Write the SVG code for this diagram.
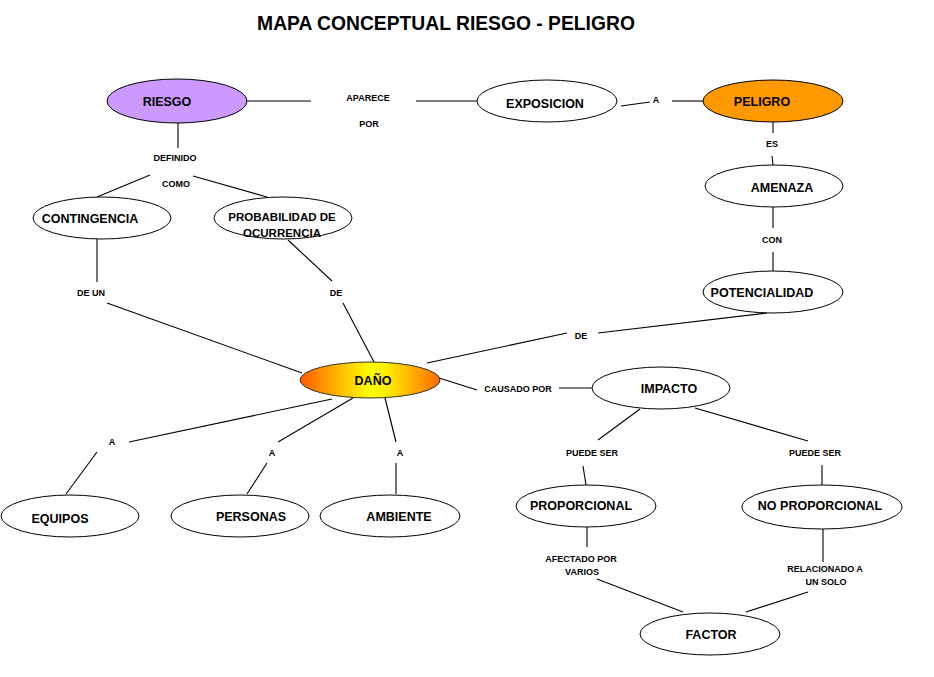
<svg xmlns="http://www.w3.org/2000/svg" width="934" height="677" viewBox="0 0 934 677">
<defs>
<linearGradient id="danoGrad" x1="0" y1="0" x2="1" y2="0">
<stop offset="0" stop-color="#ff5a00"/>
<stop offset="0.25" stop-color="#ffb000"/>
<stop offset="0.5" stop-color="#ffff00"/>
<stop offset="0.62" stop-color="#ffee00"/>
<stop offset="1" stop-color="#ff6a00"/>
</linearGradient>
</defs>
<style>
.n{fill:#ffffff;stroke:#000000;stroke-width:1}
.t{font-family:"Liberation Sans",Arial,sans-serif;font-weight:bold;font-size:12.5px;fill:#000000;text-anchor:middle}
.l{font-family:"Liberation Sans",Arial,sans-serif;font-weight:bold;font-size:9px;fill:#000000;text-anchor:middle}
.c line{stroke:#000000;stroke-width:1.1}
</style>
<rect width="934" height="677" fill="#ffffff"/>
<text x="446" y="30" style="font-family:'Liberation Sans',Arial,sans-serif;font-weight:bold;font-size:19.3px;fill:#000;text-anchor:middle">MAPA CONCEPTUAL RIESGO - PELIGRO</text>

<g id="connectors" class="c">
<line x1="247" y1="101" x2="311" y2="101"/>
<line x1="416" y1="101" x2="477" y2="101"/>
<line x1="621" y1="106" x2="650" y2="102"/>
<line x1="672" y1="101" x2="704" y2="101"/>
<line x1="773" y1="122" x2="773" y2="133"/>
<line x1="772" y1="156" x2="773" y2="165"/>
<line x1="773" y1="207" x2="773" y2="228"/>
<line x1="773" y1="252" x2="773" y2="272"/>
<line x1="767" y1="313" x2="598" y2="333"/>
<line x1="567" y1="333" x2="427" y2="363"/>
<line x1="178" y1="123" x2="178" y2="148"/>
<line x1="150" y1="175" x2="97" y2="197"/>
<line x1="193" y1="176" x2="267" y2="197"/>
<line x1="97" y1="239" x2="97" y2="282"/>
<line x1="107" y1="303" x2="302" y2="373"/>
<line x1="288" y1="240" x2="332" y2="281"/>
<line x1="343" y1="303" x2="374" y2="362"/>
<line x1="439" y1="378" x2="477" y2="390"/>
<line x1="559" y1="388" x2="592" y2="388"/>
<line x1="640" y1="409" x2="598" y2="440"/>
<line x1="583" y1="466" x2="586" y2="485"/>
<line x1="695" y1="408" x2="808" y2="441"/>
<line x1="822" y1="465" x2="822" y2="486"/>
<line x1="587" y1="527" x2="587" y2="547"/>
<line x1="597" y1="579" x2="683" y2="612"/>
<line x1="823" y1="529" x2="823" y2="562"/>
<line x1="808" y1="592" x2="746" y2="612"/>
<line x1="332" y1="399" x2="129" y2="442"/>
<line x1="97" y1="452" x2="66" y2="494"/>
<line x1="353" y1="398" x2="278" y2="442"/>
<line x1="267" y1="463" x2="247" y2="494"/>
<line x1="385" y1="398" x2="396" y2="442"/>
<line x1="396" y1="463" x2="396" y2="494"/>
</g>

<g id="link-labels">
<text class="l" x="368" y="101">APARECE</text>
<text class="l" x="369" y="127">POR</text>
<text class="l" x="656" y="103">A</text>
<text class="l" x="772" y="147">ES</text>
<text class="l" x="772" y="243">CON</text>
<text class="l" x="581" y="339">DE</text>
<text class="l" x="175" y="161">DEFINIDO</text>
<text class="l" x="176" y="187">COMO</text>
<text class="l" x="91" y="296">DE UN</text>
<text class="l" x="336" y="296">DE</text>
<text class="l" x="518" y="392">CAUSADO POR</text>
<text class="l" x="592" y="456">PUEDE SER</text>
<text class="l" x="815" y="456">PUEDE SER</text>
<text class="l" x="581" y="562">AFECTADO POR</text>
<text class="l" x="582" y="575">VARIOS</text>
<text class="l" x="825" y="572">RELACIONADO A</text>
<text class="l" x="826" y="585">UN SOLO</text>
<text class="l" x="112" y="445">A</text>
<text class="l" x="272" y="456">A</text>
<text class="l" x="400" y="456">A</text>
</g>

<g id="riesgo"><ellipse cx="177" cy="101" rx="70" ry="22" fill="#cc99ff" stroke="#000" stroke-width="1"/><text class="t" x="167" y="106">RIESGO</text></g>
<g id="exposicion"><ellipse class="n" cx="547" cy="101" rx="70" ry="21"/><text class="t" x="545" y="108">EXPOSICION</text></g>
<g id="peligro"><ellipse cx="773" cy="101" rx="70" ry="21" fill="#ff9900" stroke="#000" stroke-width="1"/><text class="t" x="762" y="106">PELIGRO</text></g>
<g id="amenaza"><ellipse class="n" cx="774" cy="186" rx="69" ry="21"/><text class="t" x="782" y="192">AMENAZA</text></g>
<g id="potencialidad"><ellipse class="n" cx="773" cy="292" rx="70" ry="21"/><text class="t" x="762" y="297">POTENCIALIDAD</text></g>
<g id="contingencia"><ellipse class="n" cx="102" cy="218" rx="69" ry="21"/><text class="t" x="90" y="223">CONTINGENCIA</text></g>
<g id="probabilidad"><ellipse class="n" cx="283" cy="218" rx="69" ry="21"/><text class="t" x="282" y="221" style="font-size:11.5px">PROBABILIDAD DE</text><text class="t" x="282" y="237" style="font-size:11.5px">OCURRENCIA</text></g>
<g id="dano"><ellipse cx="370" cy="380" rx="70" ry="18" fill="url(#danoGrad)" stroke="#333" stroke-width="1"/><text class="t" x="373" y="385">DAÑO</text></g>
<g id="impacto"><ellipse class="n" cx="661" cy="388" rx="69" ry="21"/><text class="t" x="669" y="393">IMPACTO</text></g>
<g id="equipos"><ellipse class="n" cx="70" cy="516" rx="69" ry="21"/><text class="t" x="60" y="523">EQUIPOS</text></g>
<g id="personas"><ellipse class="n" cx="240" cy="516" rx="69" ry="21"/><text class="t" x="251" y="521">PERSONAS</text></g>
<g id="ambiente"><ellipse class="n" cx="390" cy="516" rx="70" ry="21"/><text class="t" x="399" y="521">AMBIENTE</text></g>
<g id="proporcional"><ellipse class="n" cx="586" cy="506" rx="70" ry="21"/><text class="t" x="581" y="510">PROPORCIONAL</text></g>
<g id="no-proporcional"><ellipse class="n" cx="822" cy="507" rx="80" ry="22"/><text class="t" x="820" y="510">NO PROPORCIONAL</text></g>
<g id="factor"><ellipse class="n" cx="710" cy="634" rx="70" ry="21"/><text class="t" x="711" y="639">FACTOR</text></g>
</svg>
